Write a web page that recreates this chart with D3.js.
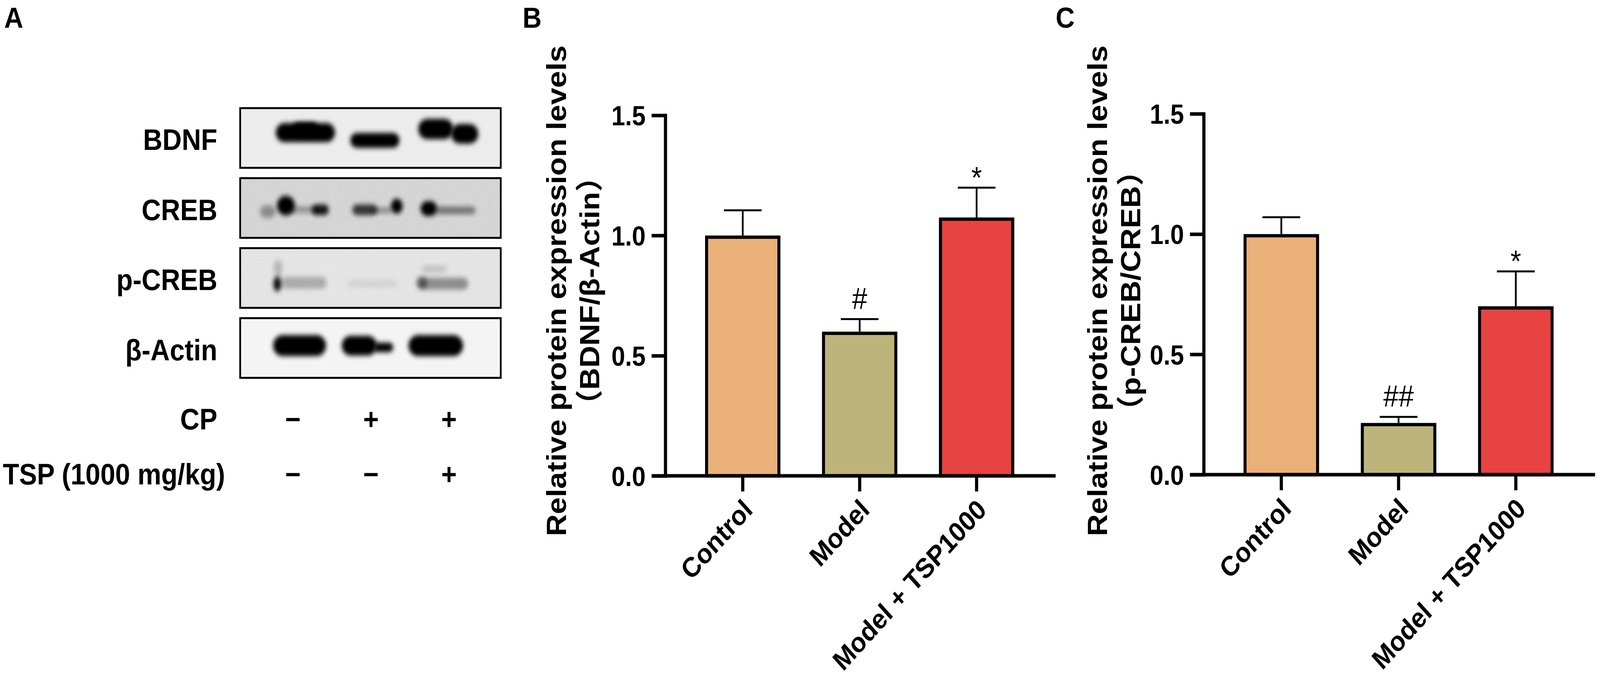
<!DOCTYPE html>
<html>
<head>
<meta charset="utf-8">
<script src="https://cdn.jsdelivr.net/npm/d3@7"></script>
<style>
  html, body { margin: 0; padding: 0; background: #fff; overflow: hidden; }
  svg { display: block; width: 100vw; height: 100vh; }
  text { font-family: "Liberation Sans", Arial, "Noto Sans CJK SC", sans-serif; font-weight: bold; fill: #000; }
</style>
</head>
<body>
<div id="figure"></div>
<script>
// ---- chart data ----
var groups = ["Control", "Model", "Model + TSP1000"];

var bdnfMean = [1.00, 0.60, 1.075];
var bdnfSem  = [0.105, 0.052, 0.124];
var bdnfSig  = ["", "#", "*"];

var pcrebMean = [1.00, 0.215, 0.70];
var pcrebSem  = [0.07, 0.025, 0.145];
var pcrebSig  = ["", "##", "*"];

var yTicks = [0, 0.5, 1.0, 1.5];

// western blot (panel A)
var blotRows = ["BDNF", "CREB", "p-CREB", "β-Actin"];
var lanes = [0, 1, 2];
var cpSigns  = ["−", "+", "+"];
var tspSigns = ["−", "−", "+"];
// band densities: row, lane, offset along lane, offset in row, extent, density
// (offsets/extents in lane-step and row-height units)
var bandRow  = [0,0,0,0,0,  1,1,1,1,1,1,1,1,1,  2,2,2,2,2,2,2,  3,3,3,3];
var bandLane = [0,0,1,2,2,  0,0,0,0,1,1,1,2,2,  0,0,0,1,2,2,2,  0,1,1,2];
var bandDx   = [0.16,0.16,0.05,-0.17,0.20,  -0.32,-0.09,0.35,0.135,-0.08,0.33,0.135,-0.26,0.08,
                -0.20,0.14,-0.19,0.02,-0.07,-0.35,-0.19,  0.085,-0.15,0.16,-0.17];
var bandDy   = [-0.09,-0.16,0.04,-0.15,-0.07,  0.06,-0.04,0.03,0.03,0.03,-0.03,0.04,0.01,0.04,
                0.10,0.08,-0.16,0.095,0.095,0.08,-0.15,  -0.04,-0.04,-0.01,-0.04];
var bandW    = [0.76,0.32,0.63,0.45,0.35,  0.20,0.23,0.22,0.36,0.32,0.15,0.27,0.21,0.52,
                0.10,0.58,0.11,0.63,0.63,0.14,0.32,  0.68,0.45,0.25,0.70];
var bandH    = [0.32,0.20,0.25,0.34,0.33,  0.21,0.33,0.18,0.12,0.18,0.25,0.10,0.25,0.13,
                0.25,0.20,0.29,0.13,0.20,0.21,0.12,  0.35,0.33,0.16,0.35];
var bandDensity = [1,1,1,1,1,  0.35,1,0.9,0.3,0.75,1,0.35,1,0.45,
                   0.95,0.25,0.2,0.07,0.38,0.45,0.15,  1,1,1,1];

// ---- page ----
var W = 4550, H = 1742;
var svg = d3.select("#figure").append("svg")
            .attr("viewBox", "0 0 " + W + " " + H)
            .attr("preserveAspectRatio", "none")
            .style("background", "#fff");

var defs = svg.append("defs");
defs.append("filter").attr("id", "soft")
    .attr("x", "-50%").attr("y", "-50%").attr("width", "200%").attr("height", "200%")
    .append("feGaussianBlur").attr("stdDeviation", 6.5);
var grain = defs.append("filter").attr("id", "grain");
grain.append("feTurbulence").attr("type", "fractalNoise")
     .attr("baseFrequency", 0.7).attr("numOctaves", 2).attr("seed", 4);
grain.append("feColorMatrix").attr("type", "matrix")
     .attr("values", "0 0 0 0 0  0 0 0 0 0  0 0 0 0 0  0.7 0 0 0 -0.25");

// panel letters
svg.append("text").attr("x", 12).attr("y", 71).attr("font-size", 75).text("A");
svg.append("text").attr("x", 1486).attr("y", 71).attr("font-size", 75).text("B");
svg.append("text").attr("x", 3002).attr("y", 71).attr("font-size", 75).text("C");

// ---- panel A: blot ----
var blotShade = ["#ececec", "#dedede", "#e9e9e9", "#f4f4f4"];
var rowScale = d3.scaleBand().domain(d3.range(blotRows.length))
                 .range([277, 968]).paddingInner(0.147);
var laneScale = d3.scalePoint().domain(lanes).range([833, 1277]);
var laneStep = laneScale.step();
var boxX0 = 683, boxX1 = 1424;

var blot = svg.append("g");
blotRows.forEach(function(name, r) {
  var top = rowScale(r), h = rowScale.bandwidth();
  defs.append("clipPath").attr("id", "clip" + r)
      .append("rect").attr("x", boxX0).attr("y", top)
      .attr("width", boxX1 - boxX0).attr("height", h);
  var row = blot.append("g").attr("clip-path", "url(#clip" + r + ")");
  row.append("rect").attr("x", boxX0).attr("y", top)
     .attr("width", boxX1 - boxX0).attr("height", h)
     .attr("fill", blotShade[r]);
  if (r === 1 || r === 2) {
    row.append("rect").attr("x", boxX0).attr("y", top)
       .attr("width", boxX1 - boxX0).attr("height", h)
       .attr("filter", "url(#grain)").attr("opacity", r === 1 ? 0.4 : 0.2);
  }
  bandRow.forEach(function(br, i) {
    if (br !== r) return;
    var cx = laneScale(bandLane[i]) + bandDx[i] * laneStep;
    var cy = top + h / 2 + bandDy[i] * h;
    var bw = bandW[i] * laneStep, bh = bandH[i] * h;
    row.append("rect")
       .attr("x", cx - bw / 2).attr("y", cy - bh / 2)
       .attr("width", bw).attr("height", bh)
       .attr("rx", Math.min(bw, bh) / 2).attr("ry", bh / 2)
       .attr("fill", "#000").attr("fill-opacity", bandDensity[i])
       .attr("filter", "url(#soft)");
  });
  blot.append("rect").attr("x", boxX0).attr("y", top)
      .attr("width", boxX1 - boxX0).attr("height", h)
      .attr("fill", "none").attr("stroke", "#000").attr("stroke-width", 5);
  blot.append("text").attr("x", 618).attr("y", top + h / 2 + 31)
      .attr("text-anchor", "end").attr("font-size", 76).text(name);
});

// treatment rows
var signRows = [{label: "CP", signs: cpSigns, y: 1100},
                {label: "TSP (1000 mg/kg)", signs: tspSigns, y: 1241}];
signRows.forEach(function(s, k) {
  var t = svg.append("text").attr("y", s.y).attr("font-size", 76).text(s.label);
  if (k === 0) t.attr("x", 618).attr("text-anchor", "end");
  else t.attr("x", 8);
  svg.selectAll(null).data(s.signs).enter().append("text")
     .attr("x", function(d, i) { return laneScale(i); })
     .attr("y", s.y)
     .attr("text-anchor", "middle").attr("font-size", 76)
     .text(function(d) { return d; });
});

// ---- panels B and C: bar charts ----
var barColors = ["#eab07a", "#bdb47b", "#e64341"];
var axisW = 9, barStroke = 8.5, errStroke = 5, tickLen = 39;

function barPanel(p) {
  var g = svg.append("g");
  var y = d3.scaleLinear().domain([0, 1.5]).range([p.y0, p.y1]);
  var x = d3.scaleBand().domain(groups).range([p.ax, p.xEnd])
            .paddingInner(0.356).paddingOuter(0.347).align(0.49);
  var bw = x.bandwidth();

  // bars
  g.selectAll(".bar").data(groups).enter().append("rect")
   .attr("class", "bar")
   .attr("x", function(d) { return x(d) + barStroke / 2; })
   .attr("width", bw - barStroke)
   .attr("y", function(d, i) { return y(p.mean[i]) + barStroke / 2; })
   .attr("height", function(d, i) { return y(0) - y(p.mean[i]) - barStroke / 2; })
   .attr("fill", function(d, i) { return barColors[i]; })
   .attr("stroke", "#000").attr("stroke-width", barStroke);

  // error bars (upper only)
  groups.forEach(function(d, i) {
    var cx = x(d) + bw / 2;
    var top = y(p.mean[i] + p.sem[i]);
    g.append("line").attr("x1", cx).attr("x2", cx)
     .attr("y1", y(p.mean[i])).attr("y2", top)
     .attr("stroke", "#000").attr("stroke-width", errStroke);
    g.append("line").attr("x1", cx - bw / 4).attr("x2", cx + bw / 4)
     .attr("y1", top).attr("y2", top)
     .attr("stroke", "#000").attr("stroke-width", errStroke);
    if (p.sig[i]) {
      var inkBottom = p.sig[i].indexOf("*") >= 0 ? -26 : 1;
      g.append("text").attr("x", cx).attr("y", top - 25 - inkBottom)
       .attr("text-anchor", "middle").attr("font-size", 78)
       .style("font-weight", "normal").text(p.sig[i]);
    }
  });

  // x baseline and ticks
  g.append("line").attr("x1", p.ax - tickLen).attr("x2", p.xEnd)
   .attr("y1", y(0)).attr("y2", y(0))
   .attr("stroke", "#000").attr("stroke-width", axisW);
  var xa = g.append("g").attr("transform", "translate(0," + y(0) + ")")
            .call(d3.axisBottom(x).tickSize(40).tickFormat(""));
  xa.select(".domain").remove();
  xa.selectAll(".tick line").attr("stroke-width", axisW);
  g.selectAll(".xlab").data(groups).enter().append("text")
   .attr("class", "xlab")
   .attr("text-anchor", "end").attr("font-size", 71)
   .attr("transform", function(d) {
     return "translate(" + (x(d) + bw / 2 + 32) + "," + (y(0) + 91) + ") rotate(-45)";
   })
   .text(function(d) { return d; });

  // y axis
  var ya = g.append("g").attr("transform", "translate(" + p.ax + ",0)")
            .call(d3.axisLeft(y).tickValues(yTicks).tickSize(tickLen)
                    .tickSizeOuter(0).tickPadding(17).tickFormat(d3.format(".1f")));
  ya.select(".domain").attr("stroke-width", axisW).attr("stroke-linecap", "square");
  ya.selectAll(".tick line").attr("stroke-width", axisW);
  ya.selectAll(".tick text").attr("font-size", 70).attr("font-family", null)
    .attr("dy", "0.36em");

  // y title (two lines)
  p.title.forEach(function(line, k) {
    g.append("text")
     .attr("transform", "translate(" + (p.titleX + k * 94) + "," + p.titleY + ") rotate(-90)")
     .attr("text-anchor", "middle").attr("font-size", 78).text(line);
  });
}

barPanel({ax: 1892, xEnd: 3002, y0: 1219, y1: 295.5,
          mean: bdnfMean, sem: bdnfSem, sig: bdnfSig,
          title: ["Relative protein expression levels", "（BDNF/β-Actin）"],
          titleX: 1610, titleY: 745});
barPanel({ax: 3423, xEnd: 4536, y0: 1216, y1: 291.5,
          mean: pcrebMean, sem: pcrebSem, sig: pcrebSig,
          title: ["Relative protein expression levels", "（p-CREB/CREB）"],
          titleX: 3148, titleY: 745});
</script>
</body>
</html>
